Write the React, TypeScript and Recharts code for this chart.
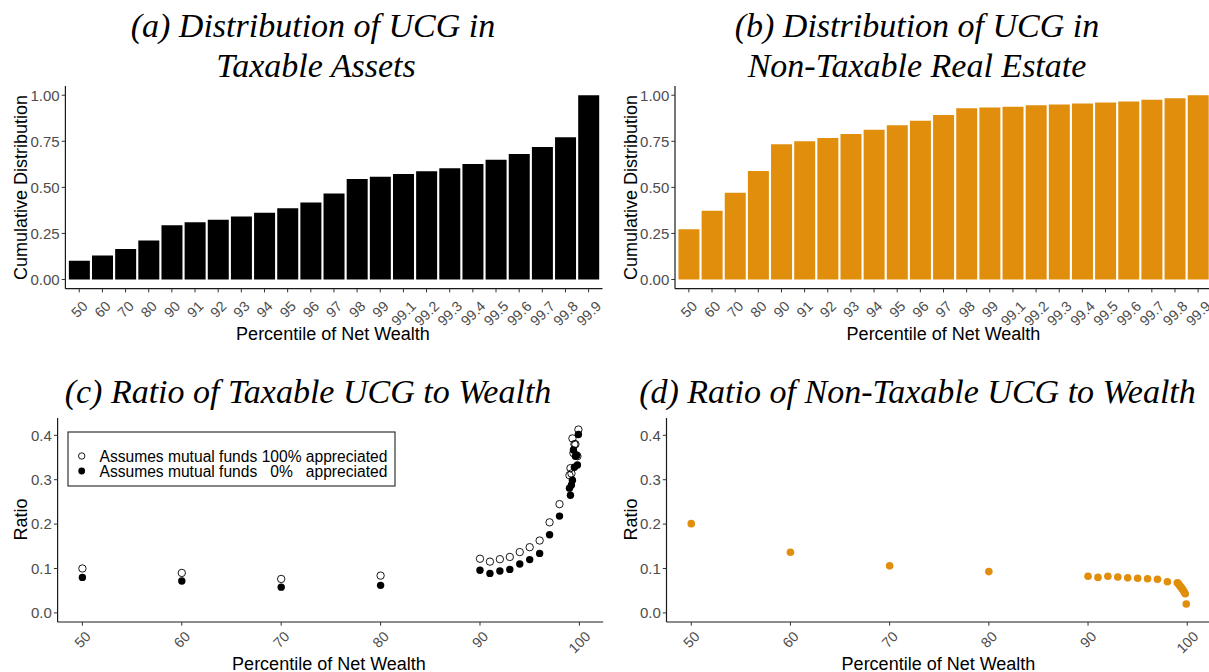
import React from 'react';
import { BarChart, Bar, XAxis, YAxis, ScatterChart, Scatter } from 'recharts';

// ---------- data ----------
const percentileLabels = ["50", "60", "70", "80", "90", "91", "92", "93", "94", "95", "96", "97", "98", "99", "99.1", "99.2", "99.3", "99.4", "99.5", "99.6", "99.7", "99.8", "99.9"];
const percentileValues = [50, 60, 70, 80, 90, 91, 92, 93, 94, 95, 96, 97, 98, 99, 99.1, 99.2, 99.3, 99.4, 99.5, 99.6, 99.7, 99.8, 99.9];

const taxableCumDist = [0.101, 0.130, 0.165, 0.212, 0.295, 0.310, 0.324, 0.342, 0.362, 0.386, 0.418, 0.466, 0.545, 0.558, 0.572, 0.587, 0.603, 0.627, 0.650, 0.681, 0.719, 0.772, 1.000];
const nonTaxableCumDist = [0.272, 0.373, 0.471, 0.589, 0.734, 0.750, 0.768, 0.790, 0.812, 0.837, 0.862, 0.893, 0.929, 0.933, 0.938, 0.946, 0.949, 0.955, 0.960, 0.966, 0.975, 0.984, 1.000];

const taxableRatio100 = [0.100, 0.090, 0.0765, 0.084, 0.122, 0.1155, 0.121, 0.126, 0.137, 0.148, 0.163, 0.204, 0.245, 0.310, 0.326, 0.314, 0.393, 0.360, 0.380, 0.380, 0.355, 0.353, 0.413];
const taxableRatio0 = [0.080, 0.072, 0.058, 0.062, 0.096, 0.089, 0.0945, 0.098, 0.110, 0.120, 0.134, 0.176, 0.218, 0.281, 0.265, 0.288, 0.299, 0.367, 0.328, 0.353, 0.355, 0.333, 0.402];
const nonTaxableRatio = [0.201, 0.1365, 0.106, 0.093, 0.0825, 0.080, 0.0825, 0.081, 0.079, 0.078, 0.077, 0.0758, 0.070, 0.068, 0.066, 0.063, 0.060, 0.057, 0.054, 0.051, 0.047, 0.043, 0.020];

const barTicks = [0, 0.25, 0.5, 0.75, 1];
const ratioTicks = [0, 0.1, 0.2, 0.3, 0.4];
const percentileTicks = [50, 60, 70, 80, 90, 100];

const legendLabels = ["Assumes mutual funds", "100%", "0%", "appreciated"];

// ---------- derived tables ----------
const dataA = percentileLabels.map((p, i) => ({ p, v: taxableCumDist[i] }));
const dataB = percentileLabels.map((p, i) => ({ p, v: nonTaxableCumDist[i] }));
const dataC100 = percentileValues.map((x, i) => ({ x, y: taxableRatio100[i] }));
const dataC0 = percentileValues.map((x, i) => ({ x, y: taxableRatio0[i] }));
const dataD = percentileValues.map((x, i) => ({ x, y: nonTaxableRatio[i] }));

// ---------- styles ----------
const SANS = "'Liberation Sans', Arial, sans-serif";
const SERIF = "'Liberation Serif', 'Times New Roman', serif";
const ORANGE = "#E08E0B";
const XTICK_FS = 14.3;
const YTICK_FS = 15;
const axisLineStyle = { stroke: "#1a1a1a", strokeWidth: 1.2 };
const tickLineStyle = { stroke: "#333", strokeWidth: 1 };
const yTickStyle = { fill: "#4D4D4D", fontSize: YTICK_FS, fontFamily: SANS };

function textWidthEm(s: string) {
  let w = 0;
  for (const c of s) w += c === "." ? 0.278 : 0.556;
  return w;
}

function RotTick(props: any) {
  const { x, y, payload, gap } = props;
  const s = String(payload.value);
  const w = textWidthEm(s) * XTICK_FS;
  const h = 0.72 * XTICK_FS;
  const cy = y + gap + (w + h) * 0.3536;
  return (
    <text
      x={x}
      y={cy}
      dy="0.36em"
      transform={`rotate(-45 ${x} ${cy})`}
      textAnchor="middle"
      fontSize={XTICK_FS}
      fontFamily={SANS}
      fill="#4D4D4D"
    >
      {s}
    </text>
  );
}

const hollowDot = (p: any) => (
  <circle cx={p.cx} cy={p.cy} r={3.7} fill="none" stroke="#000" strokeWidth={0.9} />
);
const solidDot = (p: any) => <circle cx={p.cx} cy={p.cy} r={3.7} fill="#000" />;
const orangeDot = (p: any) => <circle cx={p.cx} cy={p.cy} r={3.8} fill={ORANGE} />;

function BarPanel({ data, fill, width, yAxisWidth }: any) {
  return (
    <BarChart
      width={width}
      height={345}
      data={data}
      margin={{ top: 86, right: 2.5, bottom: 0, left: 0 }}
      barCategoryGap="5%"
    >
      <XAxis
        dataKey="p"
        type="category"
        interval={0}
        height={56.3}
        padding={{ left: 2.3, right: 2.3 }}
        tickSize={3.7}
        tickMargin={0}
        axisLine={axisLineStyle}
        tickLine={tickLineStyle}
        tick={(p: any) => <RotTick {...p} gap={7.5} />}
      />
      <YAxis
        type="number"
        domain={[-0.05, 1.05]}
        ticks={barTicks}
        allowDataOverflow
        width={yAxisWidth}
        tickSize={3.7}
        tickMargin={2}
        axisLine={axisLineStyle}
        tickLine={tickLineStyle}
        tick={yTickStyle}
        tickFormatter={(v: number) => v.toFixed(2)}
      />
      <Bar dataKey="v" fill={fill} isAnimationActive={false} />
    </BarChart>
  );
}

function ScatterPanel({ width, yAxisWidth, right, children }: any) {
  return (
    <ScatterChart
      width={width}
      height={327}
      margin={{ top: 73, right, bottom: 0, left: 0 }}
    >
      <XAxis
        dataKey="x"
        type="number"
        domain={[47.505, 102.395]}
        ticks={percentileTicks}
        allowDataOverflow
        height={50}
        tickSize={3.7}
        tickMargin={0}
        axisLine={axisLineStyle}
        tickLine={tickLineStyle}
        tick={(p: any) => <RotTick {...p} gap={4.5} />}
      />
      <YAxis
        dataKey="y"
        type="number"
        domain={[-0.0205, 0.439]}
        ticks={ratioTicks}
        allowDataOverflow
        width={yAxisWidth}
        tickSize={3.7}
        tickMargin={2}
        axisLine={axisLineStyle}
        tickLine={tickLineStyle}
        tick={yTickStyle}
        tickFormatter={(v: number) => v.toFixed(1)}
      />
      {children}
    </ScatterChart>
  );
}

export default function App() {
  const titleProps = {
    fontFamily: SERIF,
    fontStyle: "italic" as const,
    fontSize: 34,
    fill: "#000",
    textAnchor: "middle" as const,
  };
  const axisTitleProps = {
    fontFamily: SANS,
    fontSize: 18,
    fill: "#000",
    textAnchor: "middle" as const,
  };
  const legFs = 15.6;
  const legX = 99.5;
  const pctStart = legX + (10.115 + 0.278) * legFs;
  const pctCenter = pctStart + (2.557 * legFs) / 2;
  const appStart = pctStart + (2.557 + 0.278) * legFs;
  const row1 = 456;
  const row2 = 471;

  return (
    <div
      style={{
        position: "absolute",
        left: 0,
        top: 0,
        width: 1209,
        height: 672,
        overflow: "hidden",
        background: "#fff",
      }}
    >
      <div style={{ position: "absolute", left: 0, top: 0 }}>
        <BarPanel data={dataA} fill="#000" width={605} yAxisWidth={65.4} />
      </div>
      <div style={{ position: "absolute", left: 605, top: 0 }}>
        <BarPanel data={dataB} fill={ORANGE} width={609.5} yAxisWidth={70} />
      </div>
      <div style={{ position: "absolute", left: 0, top: 345 }}>
        <ScatterPanel width={605} yAxisWidth={57.6} right={1.8}>
          <Scatter data={dataC100} shape={hollowDot} isAnimationActive={false} />
          <Scatter data={dataC0} shape={solidDot} isAnimationActive={false} />
        </ScatterPanel>
      </div>
      <div style={{ position: "absolute", left: 605, top: 345 }}>
        <ScatterPanel width={607} yAxisWidth={61.5} right={1}>
          <Scatter data={dataD} shape={orangeDot} isAnimationActive={false} />
        </ScatterPanel>
      </div>

      <svg
        width={1209}
        height={672}
        style={{ position: "absolute", left: 0, top: 0, pointerEvents: "none" }}
      >
        {/* panel titles */}
        <text x={313} y={37} {...titleProps}>(a) Distribution of UCG in</text>
        <text x={316} y={77} {...titleProps}>Taxable Assets</text>
        <text x={917} y={37} {...titleProps}>(b) Distribution of UCG in</text>
        <text x={917} y={77} {...titleProps}>Non-Taxable Real Estate</text>
        <text x={308} y={403} {...titleProps}>(c) Ratio of Taxable UCG to Wealth</text>
        <text x={917.5} y={403} {...titleProps}>(d) Ratio of Non-Taxable UCG to Wealth</text>

        {/* axis titles */}
        <text x={333} y={339.5} {...axisTitleProps}>Percentile of Net Wealth</text>
        <text x={943.5} y={339.5} {...axisTitleProps}>Percentile of Net Wealth</text>
        <text x={329} y={669.5} {...axisTitleProps}>Percentile of Net Wealth</text>
        <text x={938.5} y={669.5} {...axisTitleProps}>Percentile of Net Wealth</text>
        <text x={27} y={187.5} transform="rotate(-90 27 187.5)" {...axisTitleProps}>Cumulative Distribution</text>
        <text x={636.5} y={187.5} transform="rotate(-90 636.5 187.5)" {...axisTitleProps}>Cumulative Distribution</text>
        <text x={27} y={519.5} transform="rotate(-90 27 519.5)" {...axisTitleProps}>Ratio</text>
        <text x={636.5} y={519.5} transform="rotate(-90 636.5 519.5)" {...axisTitleProps}>Ratio</text>

        {/* legend for panel (c) */}
        <rect x={68} y={432} width={327} height={54} fill="#fff" stroke="#222" strokeWidth={1.1} />
        <circle cx={81.7} cy={row1} r={3.2} fill="none" stroke="#000" strokeWidth={0.9} />
        <circle cx={81.7} cy={row2} r={3.4} fill="#000" />
        <g fontFamily={SANS} fontSize={legFs} fill="#000">
          <text x={legX} y={row1} dy="0.36em">{legendLabels[0]}</text>
          <text x={pctCenter} y={row1} dy="0.36em" textAnchor="middle">{legendLabels[1]}</text>
          <text x={appStart} y={row1} dy="0.36em">{legendLabels[3]}</text>
          <text x={legX} y={row2} dy="0.36em">{legendLabels[0]}</text>
          <text x={pctCenter} y={row2} dy="0.36em" textAnchor="middle">{legendLabels[2]}</text>
          <text x={appStart} y={row2} dy="0.36em">{legendLabels[3]}</text>
        </g>
      </svg>
    </div>
  );
}
